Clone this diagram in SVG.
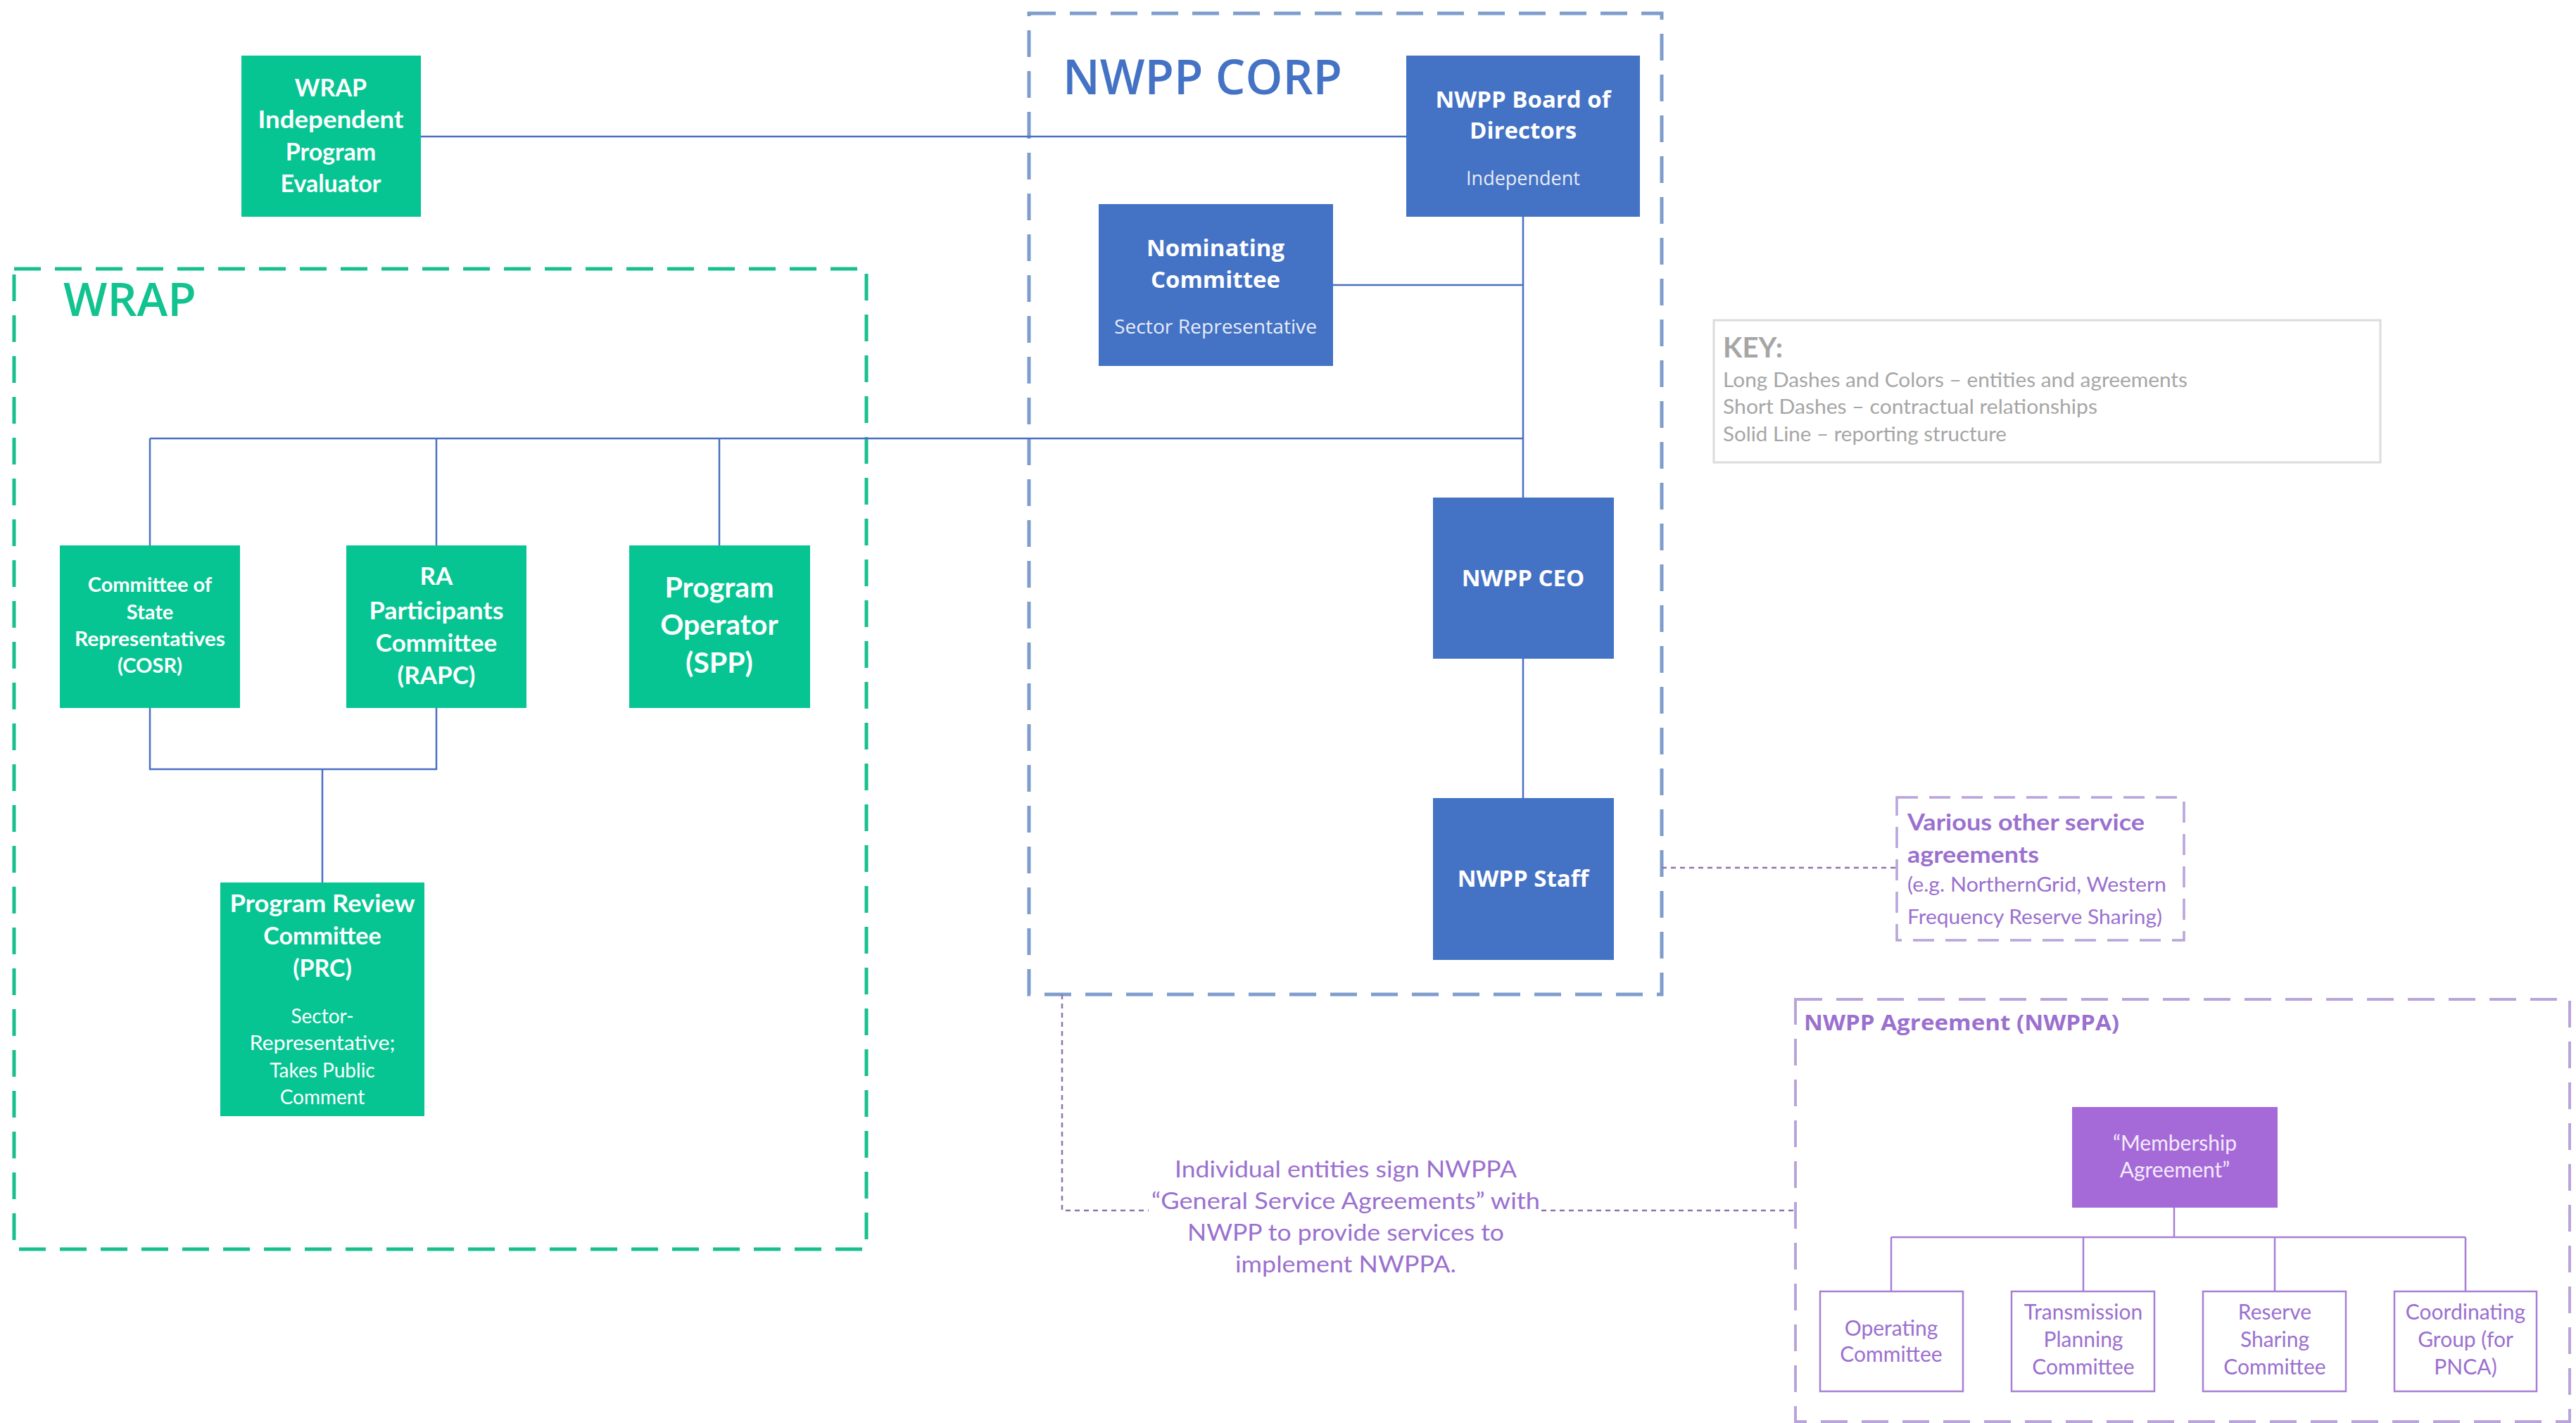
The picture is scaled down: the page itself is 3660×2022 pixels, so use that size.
<svg xmlns="http://www.w3.org/2000/svg" width="3660" height="2022" viewBox="0 0 3660 2022">
<style>
.bg{fill:#ffffff}
.green{fill:#06c592}
.blue{fill:#4472c4}
.wt{fill:#ffffff;text-anchor:middle}
.cal{font-family:Lato,"Open Sans","DejaVu Sans",sans-serif}
.seg{font-family:"Open Sans",Lato,"DejaVu Sans",sans-serif}
.b{font-weight:700}
.rep{stroke:#4a70c2;stroke-width:2.5;fill:none}
.ptree{stroke:#a77fd4;stroke-width:2.5;fill:none}
.short{stroke:#8f74b0;stroke-width:2.5;fill:none;stroke-dasharray:7 6}
.pt{fill:#9b70cf}
.key{fill:#a6a6a6}
.sub{fill:#ffffff;stroke:#a77fd4;stroke-width:2.5}
</style>
<rect class="bg" x="0" y="0" width="3660" height="2022"/>

<!-- containers -->
<g id="wrap-group">
<rect x="20" y="382" width="1211" height="1393" fill="none" stroke="#17c08e" stroke-width="5" stroke-dasharray="38 20"/>
<text x="90" y="449" class="seg" font-size="66" font-weight="600" fill="#12c28f">WRAP</text>
</g>
<g id="nwpp-corp-group">
<rect x="1462" y="19" width="899" height="1394" fill="none" stroke="#7f9dcc" stroke-width="5" stroke-dasharray="38 20"/>
<text x="1510" y="134" class="seg" font-size="68" font-weight="600" fill="#4472c4" textLength="397" lengthAdjust="spacingAndGlyphs">NWPP CORP</text>
</g>
<g id="nwppa-group">
<rect x="2551" y="1420" width="1100" height="600" fill="none" stroke="#b9a4da" stroke-width="4" stroke-dasharray="38 20"/>
<text x="2563" y="1464" class="seg b pt" font-size="31" textLength="448" lengthAdjust="spacingAndGlyphs">NWPP Agreement (NWPPA)</text>
</g>

<!-- connectors -->
<g id="connectors">
<line class="rep" x1="598" y1="194" x2="1998" y2="194"/>
<line class="rep" x1="2164" y1="308" x2="2164" y2="707"/>
<line class="rep" x1="1894" y1="405" x2="2164" y2="405"/>
<line class="rep" x1="213" y1="623" x2="2164" y2="623"/>
<line class="rep" x1="213" y1="623" x2="213" y2="775"/>
<line class="rep" x1="620" y1="623" x2="620" y2="775"/>
<line class="rep" x1="1022" y1="623" x2="1022" y2="775"/>
<line class="rep" x1="2164" y1="936" x2="2164" y2="1134"/>
<polyline class="rep" points="213,1006 213,1093 620,1093 620,1006"/>
<line class="rep" x1="458" y1="1093" x2="458" y2="1254"/>
<line class="short" x1="2361" y1="1233" x2="2695" y2="1233"/>
<polyline class="short" points="1509,1413 1509,1720 1632,1720"/>
<line class="short" x1="2190" y1="1720" x2="2551" y2="1720"/>
<line class="ptree" x1="3089" y1="1716" x2="3089" y2="1758"/>
<line class="ptree" x1="2687" y1="1758" x2="3503" y2="1758"/>
<line class="ptree" x1="2687" y1="1758" x2="2687" y2="1835"/>
<line class="ptree" x1="2960" y1="1758" x2="2960" y2="1835"/>
<line class="ptree" x1="3232" y1="1758" x2="3232" y2="1835"/>
<line class="ptree" x1="3503" y1="1758" x2="3503" y2="1835"/>
</g>

<!-- WRAP nodes -->
<g id="wrap-evaluator">
<rect class="green" x="343" y="79" width="255" height="229"/>
<g class="wt cal b" font-size="34">
<text x="470" y="137">WRAP</text>
<text x="470" y="182" textLength="207" lengthAdjust="spacingAndGlyphs">Independent</text>
<text x="470" y="228">Program</text>
<text x="470" y="273">Evaluator</text>
</g>
</g>
<g id="cosr">
<rect class="green" x="85" y="775" width="256" height="231"/>
<g class="wt cal b" font-size="29">
<text x="213" y="841">Committee of</text>
<text x="213" y="880">State</text>
<text x="213" y="918" textLength="214" lengthAdjust="spacingAndGlyphs">Representatives</text>
<text x="213" y="956">(COSR)</text>
</g>
</g>
<g id="rapc">
<rect class="green" x="492" y="775" width="256" height="231"/>
<g class="wt cal b" font-size="35">
<text x="620" y="831">RA</text>
<text x="620" y="880" textLength="191" lengthAdjust="spacingAndGlyphs">Participants</text>
<text x="620" y="926">Committee</text>
<text x="620" y="972">(RAPC)</text>
</g>
</g>
<g id="spp">
<rect class="green" x="894" y="775" width="257" height="231"/>
<g class="wt cal b" font-size="41">
<text x="1022" y="849">Program</text>
<text x="1022" y="902">Operator</text>
<text x="1022" y="956">(SPP)</text>
</g>
</g>
<g id="prc">
<rect class="green" x="313" y="1254" width="290" height="332"/>
<g class="wt cal" font-size="34">
<text x="458" y="1296" font-weight="700" textLength="263" lengthAdjust="spacingAndGlyphs">Program Review</text>
<text x="458" y="1342" font-weight="700">Committee</text>
<text x="458" y="1388" font-weight="700">(PRC)</text>
</g>
<g class="wt cal" font-size="28">
<text x="458" y="1454">Sector-</text>
<text x="458" y="1492" textLength="207" lengthAdjust="spacingAndGlyphs">Representative;</text>
<text x="458" y="1531">Takes Public</text>
<text x="458" y="1569">Comment</text>
</g>
</g>

<!-- NWPP nodes -->
<g id="board">
<rect class="blue" x="1998" y="79" width="332" height="229"/>
<g class="wt seg" font-size="33">
<text x="2164" y="153" font-weight="700">NWPP Board of</text>
<text x="2164" y="197" font-weight="700">Directors</text>
<text x="2164" y="263" font-size="27" fill="#e6ecf7">Independent</text>
</g>
</g>
<g id="nominating">
<rect class="blue" x="1561" y="290" width="333" height="230"/>
<g class="wt seg" font-size="33">
<text x="1727" y="364" font-weight="700">Nominating</text>
<text x="1727" y="409" font-weight="700">Committee</text>
<text x="1727" y="474" font-size="27" fill="#e6ecf7" textLength="288" lengthAdjust="spacingAndGlyphs">Sector Representative</text>
</g>
</g>
<g id="ceo">
<rect class="blue" x="2036" y="707" width="257" height="229"/>
<text x="2164" y="833" class="wt seg b" font-size="33">NWPP CEO</text>
</g>
<g id="staff">
<rect class="blue" x="2036" y="1134" width="257" height="230"/>
<text x="2164" y="1260" class="wt seg b" font-size="33">NWPP Staff</text>
</g>

<!-- key -->
<g id="key">
<rect x="2435" y="455" width="947" height="202" fill="#ffffff" stroke="#dcdcdc" stroke-width="3"/>
<text x="2448" y="508" class="cal b key" font-size="40">KEY:</text>
<text x="2448" y="550" class="cal key" font-size="28" textLength="660" lengthAdjust="spacingAndGlyphs">Long Dashes and Colors – entities and agreements</text>
<text x="2448" y="588" class="cal key" font-size="28" textLength="532" lengthAdjust="spacingAndGlyphs">Short Dashes – contractual relationships</text>
<text x="2448" y="627" class="cal key" font-size="28" textLength="403" lengthAdjust="spacingAndGlyphs">Solid Line – reporting structure</text>
</g>

<!-- various other service agreements -->
<g id="various">
<rect x="2695" y="1133" width="408" height="203" fill="none" stroke="#b9a4da" stroke-width="3.5" stroke-dasharray="30 16"/>
<text x="2710" y="1180" class="cal b pt" font-size="32" textLength="337" lengthAdjust="spacingAndGlyphs">Various other service</text>
<text x="2710" y="1226" class="cal b pt" font-size="32" textLength="187" lengthAdjust="spacingAndGlyphs">agreements</text>
<text x="2710" y="1267" class="cal pt" font-size="28" textLength="368" lengthAdjust="spacingAndGlyphs">(e.g. NorthernGrid, Western</text>
<text x="2710" y="1313" class="cal pt" font-size="28" textLength="362" lengthAdjust="spacingAndGlyphs">Frequency Reserve Sharing)</text>
</g>

<!-- general service agreements label -->
<g id="gsa-label" class="cal pt" font-size="33" text-anchor="middle">
<text x="1912" y="1673" textLength="486" lengthAdjust="spacingAndGlyphs">Individual entities sign NWPPA</text>
<text x="1912" y="1718" textLength="552" lengthAdjust="spacingAndGlyphs">“General Service Agreements” with</text>
<text x="1912" y="1763" textLength="450" lengthAdjust="spacingAndGlyphs">NWPP to provide services to</text>
<text x="1912" y="1808" textLength="314" lengthAdjust="spacingAndGlyphs">implement NWPPA.</text>
</g>

<!-- NWPPA nodes -->
<g id="membership">
<rect x="2944" y="1573" width="292" height="143" fill="#a56ad8"/>
<text x="3090" y="1635" class="cal" font-size="30" fill="#f3eafb" text-anchor="middle">“Membership</text>
<text x="3090" y="1673" class="cal" font-size="30" fill="#f3eafb" text-anchor="middle">Agreement”</text>
</g>
<g id="operating">
<rect class="sub" x="2586" y="1835" width="203" height="142"/>
<g class="cal pt" font-size="30" text-anchor="middle">
<text x="2687" y="1898">Operating</text>
<text x="2687" y="1935">Committee</text>
</g>
</g>
<g id="transmission">
<rect class="sub" x="2858" y="1835" width="203" height="142"/>
<g class="cal pt" font-size="30" text-anchor="middle">
<text x="2960" y="1875">Transmission</text>
<text x="2960" y="1914">Planning</text>
<text x="2960" y="1953">Committee</text>
</g>
</g>
<g id="reserve">
<rect class="sub" x="3130" y="1835" width="203" height="142"/>
<g class="cal pt" font-size="30" text-anchor="middle">
<text x="3232" y="1875">Reserve</text>
<text x="3232" y="1914">Sharing</text>
<text x="3232" y="1953">Committee</text>
</g>
</g>
<g id="coordinating">
<rect class="sub" x="3402" y="1835" width="202" height="142"/>
<g class="cal pt" font-size="30" text-anchor="middle">
<text x="3503" y="1875">Coordinating</text>
<text x="3503" y="1914">Group (for</text>
<text x="3503" y="1953">PNCA)</text>
</g>
</g>
</svg>
